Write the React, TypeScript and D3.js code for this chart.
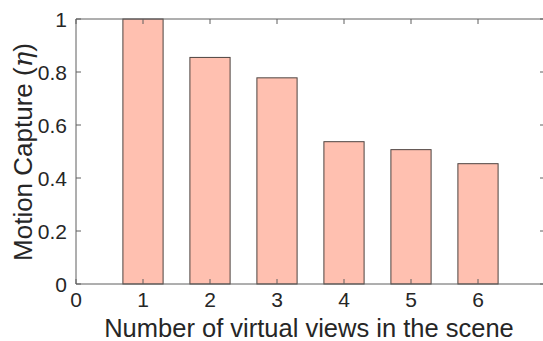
import React from "react";
import * as d3 from "d3";

const views = [1, 2, 3, 4, 5, 6];
const capture = [1.0, 0.855, 0.778, 0.537, 0.507, 0.454];
const xTicks = [0, 1, 2, 3, 4, 5, 6, 7];
const yTicks = [0, 0.2, 0.4, 0.6, 0.8, 1];

const W = 543;
const H = 341;
const left = 76;
const right = 545;
const top = 19;
const bottom = 284;

export default function App() {
  const x = d3.scaleLinear().domain([0, 7]).range([left, right]);
  const y = d3.scaleLinear().domain([0, 1]).range([bottom, top]);
  const bw = x(0.6) - x(0);
  const axisColor = "#5e5e5e";
  const textColor = "#262626";
  const font = "Liberation Sans, Arial, Helvetica, sans-serif";
  const tickLen = 5;

  return (
    <svg
      width={W}
      height={H}
      style={{ position: "absolute", left: 0, top: 0, background: "#fff" }}
      fontFamily={font}
    >
      {views.map((v, i) => (
        <rect
          key={v}
          x={x(v) - bw / 2}
          y={y(capture[i])}
          width={bw}
          height={y(0) - y(capture[i])}
          fill="#ffc0b0"
          stroke="#4d4340"
          strokeWidth={1}
        />
      ))}
      {/* box */}
      <line x1={left} x2={left} y1={top} y2={bottom} stroke={axisColor} />
      <line x1={left} x2={right} y1={bottom} y2={bottom} stroke={axisColor} />
      <line x1={left} x2={right} y1={top} y2={top} stroke={axisColor} />
      <line x1={right} x2={right} y1={top} y2={bottom} stroke={axisColor} />
      {/* x ticks */}
      {xTicks.map((t) => (
        <g key={"x" + t}>
          <line x1={x(t)} x2={x(t)} y1={bottom} y2={bottom - tickLen} stroke={axisColor} />
          <line x1={x(t)} x2={x(t)} y1={top} y2={top + tickLen} stroke={axisColor} />
          {t < 7 && (
            <text x={x(t)} y={306.5} textAnchor="middle" fontSize={21} fill={textColor}>
              {t}
            </text>
          )}
        </g>
      ))}
      {/* y ticks */}
      {yTicks.map((t) => (
        <g key={"y" + t}>
          <line x1={left} x2={left + tickLen} y1={y(t)} y2={y(t)} stroke={axisColor} />
          <line x1={right} x2={right - tickLen} y1={y(t)} y2={y(t)} stroke={axisColor} />
          <text x={67} y={y(t) + 7.5} textAnchor="end" fontSize={21} fill={textColor}>
            {d3.format("~g")(t)}
          </text>
        </g>
      ))}
      <text x={309} y={336.5} textAnchor="middle" fontSize={25.5} fill={textColor}>
        Number of virtual views in the scene
      </text>
      <text
        transform={`translate(32, 152) rotate(-90)`}
        textAnchor="middle"
        fontSize={26}
        fill={textColor}
      >
        Motion Capture (<tspan fontStyle="italic" fontFamily="DejaVu Serif, serif">η</tspan>)
      </text>
    </svg>
  );
}
